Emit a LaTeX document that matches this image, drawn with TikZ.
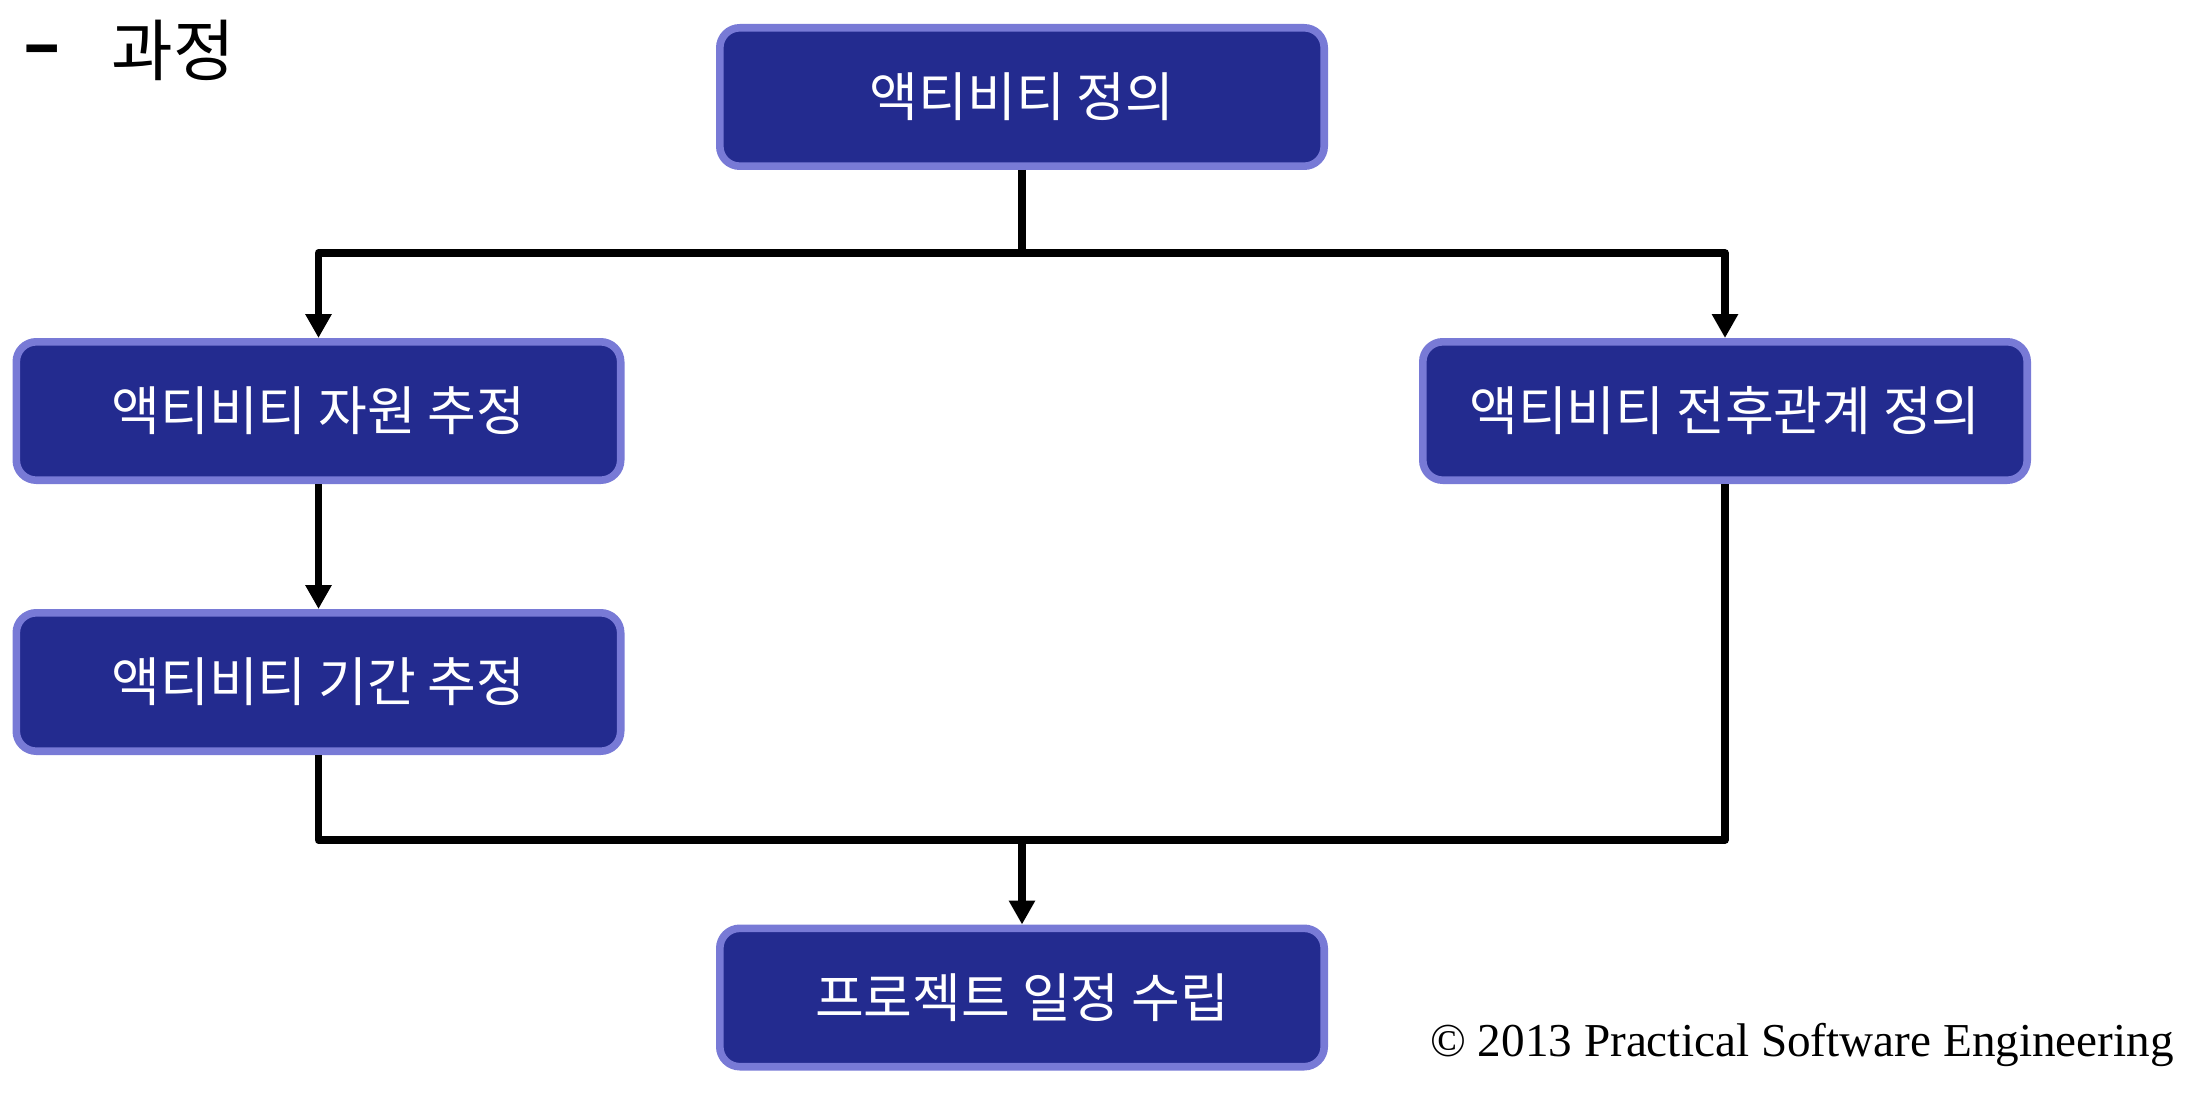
\documentclass[tikz,border=0pt]{standalone}
\usepackage{fontspec}
\usetikzlibrary{arrows.meta}
\newfontfamily\kr{Noto Sans CJK KR}
\setmainfont{Liberation Serif}
\definecolor{boxfill}{RGB}{35,43,143}
\definecolor{boxline}{RGB}{120,122,214}
\begin{document}
\begin{tikzpicture}[x=0.5pt,y=-0.5pt,
  procbox/.style={draw=boxline, fill=boxfill, line width=3.8pt, rounded corners=10pt,
    minimum width=302.2pt, minimum height=69.2pt, inner sep=0pt, text=white,
    font=\kr\fontsize{26.5}{30}\selectfont},
  conn/.style={draw=black, line width=3.8pt, line join=round},
  arr/.style={conn, -{Triangle[length=12pt,width=12.5pt]}}]
\useasboundingbox (0,0) rectangle (2202,1102);
\node[font=\kr\bfseries\fontsize{34}{38}\selectfont, inner sep=0pt] (dash) at (42.5,57) {–};
\node[font=\kr\fontsize{33.5}{38}\selectfont, inner sep=0pt, anchor=west] (title) at (111,50) {과정};
\node[procbox] (top) at (1022,97) {액티비티 정의};
\node[procbox] (res) at (318.5,411) {액티비티 자원 추정};
\node[procbox] (rel) at (1725,411) {액티비티 전후관계 정의};
\node[procbox] (dur) at (318.5,682) {액티비티 기간 추정};
\node[procbox] (plan) at (1022,997.5) {프로젝트 일정 수립};
\coordinate (split) at (1022,253);
\coordinate (join) at (1022,840);
\draw[conn] (top.south) -- (split);
\draw[arr] (split) -| (res.north);
\draw[arr] (split) -| (rel.north);
\draw[arr] (res.south) -- (dur.north);
\draw[conn] (dur.south) |- (join);
\draw[conn] (rel.south) |- (join);
\draw[arr] (join) -- (plan.north);
\node[font=\fontsize{23.6}{27}\selectfont, inner sep=0pt, anchor=base] (copy) at (1802,1056) {© 2013 Practical Software Engineering};
\end{tikzpicture}
\end{document}
